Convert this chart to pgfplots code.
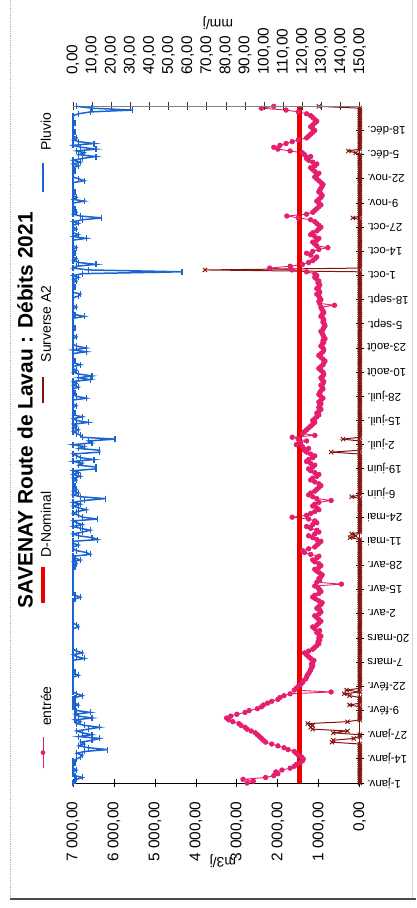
\documentclass[border=0pt]{standalone}
\usepackage{fontspec}
\setmainfont{Liberation Sans}
\usepackage{pgfplots}
\usepackage{pgfplotstable}
\pgfplotsset{compat=1.18}
\definecolor{entree}{RGB}{230,30,110}
\definecolor{dnom}{RGB}{235,0,0}
\definecolor{surv}{RGB}{130,20,15}
\definecolor{pluvio}{RGB}{25,100,210}
\pgfplotstableread[row sep=\\]{
d e s p\\
0 2750 0 0\\ 1 2600 0 1\\ 2 2850 0 2\\ 3 2300 0 5\\ 4 2100 0 1\\ 5 2000 0 0\\ 6 2050 0 0\\ 7 1900 0 2\\ 8 1700 0 0\\ 9 1600 0 0\\
10 1550 0 0\\ 11 1450 0 1\\ 12 1400 0 0\\ 13 1380 0 2\\ 14 1420 0 4\\ 15 1500 0 5\\ 16 1550 0 2\\ 17 1600 0 6\\ 18 1750 0 18\\ 19 1850 0 8\\
20 2000 0 3\\ 21 2150 0 6\\ 22 2300 680 4\\ 23 2350 650 10\\ 24 2400 150 14\\ 25 2450 0 3\\ 26 2500 0 10\\ 27 2550 650 5\\ 28 2650 300 2\\ 29 2750 1150 8\\
30 2800 1200 14\\ 31 2900 1150 6\\ 32 2950 1270 2\\ 33 3100 300 4\\ 34 3200 0 1\\ 35 3250 0 10\\ 36 3150 0 3\\ 37 3000 0 1\\ 38 2800 0 9\\ 39 2700 0 2\\
40 2500 0 1\\ 41 2400 0 0\\ 42 2350 250 3\\ 43 2250 0 1\\ 44 2150 0 0\\ 45 2000 0 0\\ 46 1950 0 1\\ 47 1850 250 5\\ 48 1700 380 2\\ 49 700 0 0\\
50 1600 320 0\\ 51 1550 0 0\\ 52 1500 0 0\\ 53 1450 0 0\\ 54 1400 0 0\\ 55 1380 0 0\\ 56 1320 0 0\\ 57 1300 0 0\\ 58 1280 0 3\\ 59 1250 0 0\\
60 1220 0 1\\ 61 1200 0 0\\ 62 1180 0 0\\ 63 1150 0 0\\ 64 1180 0 0\\ 65 1150 0 0\\ 66 1120 0 0\\ 67 1200 0 6\\ 68 1250 0 2\\ 69 1300 0 0\\
70 1350 0 5\\ 71 1250 0 2\\ 72 1150 0 0\\ 73 1100 0 0\\ 74 1050 0 0\\ 75 1000 0 0\\ 76 1020 0 0\\ 77 980 0 0\\ 78 1000 0 0\\ 79 950 0 0\\
80 1000 0 0\\ 81 1050 0 0\\ 82 980 0 0\\ 83 1100 0 0\\ 84 1150 0 3\\ 85 1050 0 2\\ 86 1000 0 0\\ 87 950 0 0\\ 88 1000 0 0\\ 89 1050 0 0\\
90 1100 0 0\\ 91 1000 0 0\\ 92 950 0 0\\ 93 980 0 0\\ 94 1050 0 0\\ 95 1000 0 0\\ 96 950 0 0\\ 97 920 0 0\\ 98 1000 0 0\\ 99 1080 0 1\\
100 1150 0 4\\ 101 1100 0 1\\ 102 1000 0 0\\ 103 950 0 0\\ 104 980 0 0\\ 105 1020 0 0\\ 106 1100 0 0\\ 107 450 0 0\\ 108 1050 0 0\\ 109 980 0 0\\
110 1000 0 0\\ 111 950 0 0\\ 112 920 0 0\\ 113 980 0 0\\ 114 1050 0 0\\ 115 1100 0 0\\ 116 1000 0 1\\ 117 950 0 0\\ 118 1000 0 2\\ 119 1100 0 0\\
120 1150 0 4\\ 121 1050 0 1\\ 122 1000 0 0\\ 123 1200 0 9\\ 124 1350 0 7\\ 125 1400 0 2\\ 126 1250 0 0\\ 127 1100 0 0\\ 128 1050 0 3\\ 129 1000 0 0\\
130 950 0 0\\ 131 1050 0 13\\ 132 1150 240 10\\ 133 1250 100 3\\ 134 1100 200 0\\ 135 1000 0 5\\ 136 1050 0 9\\ 137 1200 0 4\\ 138 1300 0 0\\ 139 1150 0 5\\
140 1050 0 2\\ 141 1100 0 0\\ 142 1250 0 13\\ 143 1650 0 5\\ 144 1300 0 3\\ 145 1200 0 0\\ 146 1100 0 2\\ 147 1000 0 7\\ 148 1050 0 3\\ 149 1150 0 0\\
150 1100 0 4\\ 151 1000 0 0\\ 152 700 0 6\\ 153 1050 0 17\\ 154 1150 200 4\\ 155 1250 0 0\\ 156 1200 0 3\\ 157 1100 0 0\\ 158 1050 0 2\\ 159 1000 0 0\\
160 950 0 1\\ 161 1000 0 0\\ 162 1100 0 0\\ 163 1200 0 2\\ 164 1150 0 0\\ 165 1050 0 4\\ 166 1000 0 0\\ 167 1100 0 3\\ 168 1200 0 0\\ 169 1250 0 12\\
170 1150 0 12\\ 171 1100 0 3\\ 172 1200 0 5\\ 173 1300 0 0\\ 174 1250 0 11\\ 175 1150 0 4\\ 176 1100 0 2\\ 177 1200 0 0\\ 178 1300 700 14\\ 179 1350 0 14\\
180 1250 0 3\\ 181 1400 0 6\\ 182 1550 0 0\\ 183 1450 0 10\\ 184 1300 0 8\\ 185 1500 410 22\\ 186 1650 0 5\\ 187 1100 0 4\\ 188 1400 0 2\\ 189 1350 0 0\\
190 1300 0 3\\ 191 1250 0 0\\ 192 1200 0 2\\ 193 1150 0 0\\ 194 1100 0 8\\ 195 1150 0 2\\ 196 1100 0 0\\ 197 1050 0 5\\ 198 1000 0 0\\ 199 1050 0 1\\
200 1000 0 0\\ 201 950 0 0\\ 202 1000 0 0\\ 203 980 0 2\\ 204 950 0 0\\ 205 1000 0 0\\ 206 950 0 0\\ 207 900 0 7\\ 208 950 0 2\\ 209 1000 0 0\\
210 980 0 1\\ 211 950 0 0\\ 212 900 0 0\\ 213 920 0 3\\ 214 950 0 0\\ 215 900 0 2\\ 216 880 0 0\\ 217 920 0 9\\ 218 950 0 3\\ 219 900 0 10\\
220 880 0 3\\ 221 900 0 0\\ 222 950 0 2\\ 223 1000 0 0\\ 224 950 0 0\\ 225 900 0 4\\ 226 880 0 0\\ 227 850 0 1\\ 228 900 0 0\\ 229 950 0 0\\
230 1000 0 0\\ 231 950 0 0\\ 232 900 0 7\\ 233 880 0 0\\ 234 900 0 7\\ 235 950 0 2\\ 236 920 0 0\\ 237 880 0 0\\ 238 900 0 0\\ 239 850 0 0\\
240 880 0 2\\ 241 900 0 0\\ 242 920 0 0\\ 243 950 0 0\\ 244 900 0 0\\ 245 880 0 1\\ 246 850 0 0\\ 247 870 0 0\\ 248 900 0 0\\ 249 880 0 0\\
250 900 0 0\\ 251 950 0 6\\ 252 920 0 1\\ 253 880 0 0\\ 254 900 0 0\\ 255 930 0 0\\ 256 950 0 2\\ 257 620 0 0\\ 258 980 0 0\\ 259 1000 0 0\\
260 950 0 0\\ 261 980 0 0\\ 262 1000 0 3\\ 263 1050 0 4\\ 264 980 0 0\\ 265 1000 0 0\\ 266 1050 0 0\\ 267 1000 0 1\\ 268 980 0 0\\ 269 1020 0 0\\
270 1000 0 2\\ 271 1050 0 0\\ 272 1100 0 3\\ 273 1050 0 0\\ 274 1100 0 5\\ 275 1300 0 57\\ 276 1650 3780 8\\ 277 2200 0 0\\ 278 1700 0 2\\ 279 1400 0 12\\
280 1250 0 3\\ 281 1150 0 0\\ 282 1100 0 2\\ 283 1050 0 0\\ 284 1200 0 0\\ 285 1300 0 1\\ 286 1150 0 0\\ 287 1000 0 0\\ 288 780 0 2\\ 289 1050 0 0\\
290 1100 0 0\\ 291 1150 0 0\\ 292 1050 0 0\\ 293 1000 0 7\\ 294 1100 0 0\\ 295 1200 0 3\\ 296 1150 0 0\\ 297 1050 0 0\\ 298 1000 0 2\\ 299 950 0 0\\
300 1000 0 0\\ 301 1050 0 3\\ 302 1100 0 0\\ 303 1200 0 5\\ 304 1500 170 15\\ 305 1780 0 4\\ 306 1300 0 0\\ 307 1150 0 2\\ 308 1100 0 0\\ 309 1050 0 1\\
310 1000 0 0\\ 311 950 0 0\\ 312 1000 0 0\\ 313 1050 0 6\\ 314 1000 0 0\\ 315 950 0 2\\ 316 920 0 0\\ 317 950 0 0\\ 318 1000 0 1\\ 319 980 0 0\\
320 950 0 0\\ 321 920 0 0\\ 322 900 0 0\\ 323 950 0 0\\ 324 1000 0 6\\ 325 1050 0 3\\ 326 1100 0 0\\ 327 1050 0 0\\ 328 1000 0 0\\ 329 1100 0 1\\
330 1150 0 0\\ 331 1200 0 0\\ 332 1100 0 3\\ 333 1050 0 0\\ 334 1150 0 4\\ 335 1250 0 0\\ 336 1300 0 5\\ 337 1200 0 12\\ 338 1350 0 3\\ 339 1400 100 6\\
340 1700 280 2\\ 341 2000 0 12\\ 342 2100 0 4\\ 343 1950 0 0\\ 344 1800 0 11\\ 345 1650 0 3\\ 346 1500 0 0\\ 347 1300 0 2\\ 348 1250 0 0\\ 349 1200 0 0\\
350 1150 0 1\\ 351 1100 0 0\\ 352 1150 0 0\\ 353 1200 0 0\\ 354 1150 0 0\\ 355 1100 0 1\\ 356 1050 0 0\\ 357 1100 0 0\\ 358 1150 0 0\\ 359 1200 0 0\\
360 1300 0 3\\ 361 1500 0 9\\ 362 1800 0 31\\ 363 2400 0 10\\ 364 2100 1000 2\\
}\data
\begin{document}
\begin{tikzpicture}
\path (0,0) rectangle (416bp,908bp);
\draw[gray!60, densely dotted, line width=0.8bp] (10bp,9bp) -- (10bp,908bp);
\draw[gray!35, line width=0.8bp] (413bp,9bp) -- (413bp,908bp);
\draw[gray!60!black, line width=1.4bp] (10bp,9bp) -- (416bp,9bp);
\begin{axis}[
  at={(73bp,125bp)}, anchor=south west,
  scale only axis, width=287bp, height=677bp,
  xmin=0, xmax=7000, x dir=reverse,
  ymin=0, ymax=364,
  axis x line*=bottom, axis y line*=right,
  clip=false,
  xtick={0,1000,...,7000},
  ytick={0,13,...,351},
  yticklabels={1-janv.,14-janv.,27-janv.,9-févr.,22-févr.,7-mars,20-mars,2-avr.,15-avr.,28-avr.,11-mai,24-mai,6-juin,19-juin,2-juil.,15-juil.,28-juil.,10-août,23-août,5-sept.,18-sept.,1-oct.,14-oct.,27-oct.,9-nov.,22-nov.,5-déc.,18-déc.},
  tick align=center, major tick length=8bp,
  tick style={black, line width=0.8bp},
  x axis line style={black, line width=0.9bp, -},
  y axis line style={surv, line width=0.8bp, -},
  /pgf/number format/fixed,
  /pgf/number format/fixed zerofill,
  /pgf/number format/precision=2,
  /pgf/number format/use comma,
  /pgf/number format/1000 sep={\ },
  /pgf/number format/assume math mode=true,
  xticklabel style={rotate=90, anchor=east, font=\fontsize{15.5}{16}\selectfont},
  xticklabel shift=11bp,
  yticklabel style={rotate=180, anchor=east, font=\fontsize{11.5}{12}\selectfont},
]
\addplot[entree, line width=0.9bp, mark=*, mark size=2.2bp, mark options={fill=entree, draw=entree}] table[x=e,y=d]{\data};
\addplot[surv, line width=1bp, mark=x, mark size=3bp, mark options={line width=0.9bp}] table[x=s,y=d]{\data};
\addplot[dnom, line width=4.2bp] coordinates {(1470,0) (1470,364)};
\end{axis}
\begin{axis}[
  at={(73bp,125bp)}, anchor=south west,
  scale only axis, width=287bp, height=677bp,
  xmin=0, xmax=150, ymin=0, ymax=364,
  axis x line*=top, hide y axis,
  clip=false,
  xtick={0,10,...,150},
  tick align=center, major tick length=8bp,
  tick style={black!80, line width=0.8bp},
  x axis line style={gray, line width=0.8bp, -},
  /pgf/number format/fixed,
  /pgf/number format/fixed zerofill,
  /pgf/number format/precision=2,
  /pgf/number format/use comma,
  /pgf/number format/assume math mode=true,
  xticklabel style={rotate=90, anchor=west, font=\fontsize{15.5}{16}\selectfont},
  xticklabel shift=24bp,
]
\addplot[pluvio, line width=1.5bp, mark=|, mark size=3bp, mark options={line width=1.3bp}] table[x=p,y=d]{\data};
\end{axis}
% legend (rotated, drawn by hand)
\begin{scope}[font=\fontsize{14}{15}\selectfont]
\draw[entree, line width=0.9bp] (43bp,140bp) -- (43bp,171bp);
\fill[entree] (43bp,155.5bp) circle (2.4bp);
\node[rotate=90] at (46bp,202bp) {entrée};
\draw[dnom, line width=4.2bp] (43bp,305bp) -- (43bp,341bp);
\node[rotate=90] at (46bp,383.5bp) {D-Nominal};
\draw[surv, line width=1.1bp] (43bp,505bp) -- (43bp,531bp);
\node[rotate=90] at (46bp,584.5bp) {Surverse A2};
\draw[pluvio, line width=1.5bp] (43bp,716bp) -- (43bp,745bp);
\node[rotate=90] at (46bp,776.5bp) {Pluvio};
\end{scope}
\node[rotate=90, font=\bfseries\fontsize{21}{22}\selectfont] at (25bp,498bp) {SAVENAY Route de Lavau : Débits 2021};
\node[rotate=180, font=\fontsize{14}{15}\selectfont] at (218bp,885bp) {mm/j};
\node[rotate=180, font=\fontsize{14}{15}\selectfont] at (223bp,47bp) {m3/j};
\end{tikzpicture}
\end{document}
